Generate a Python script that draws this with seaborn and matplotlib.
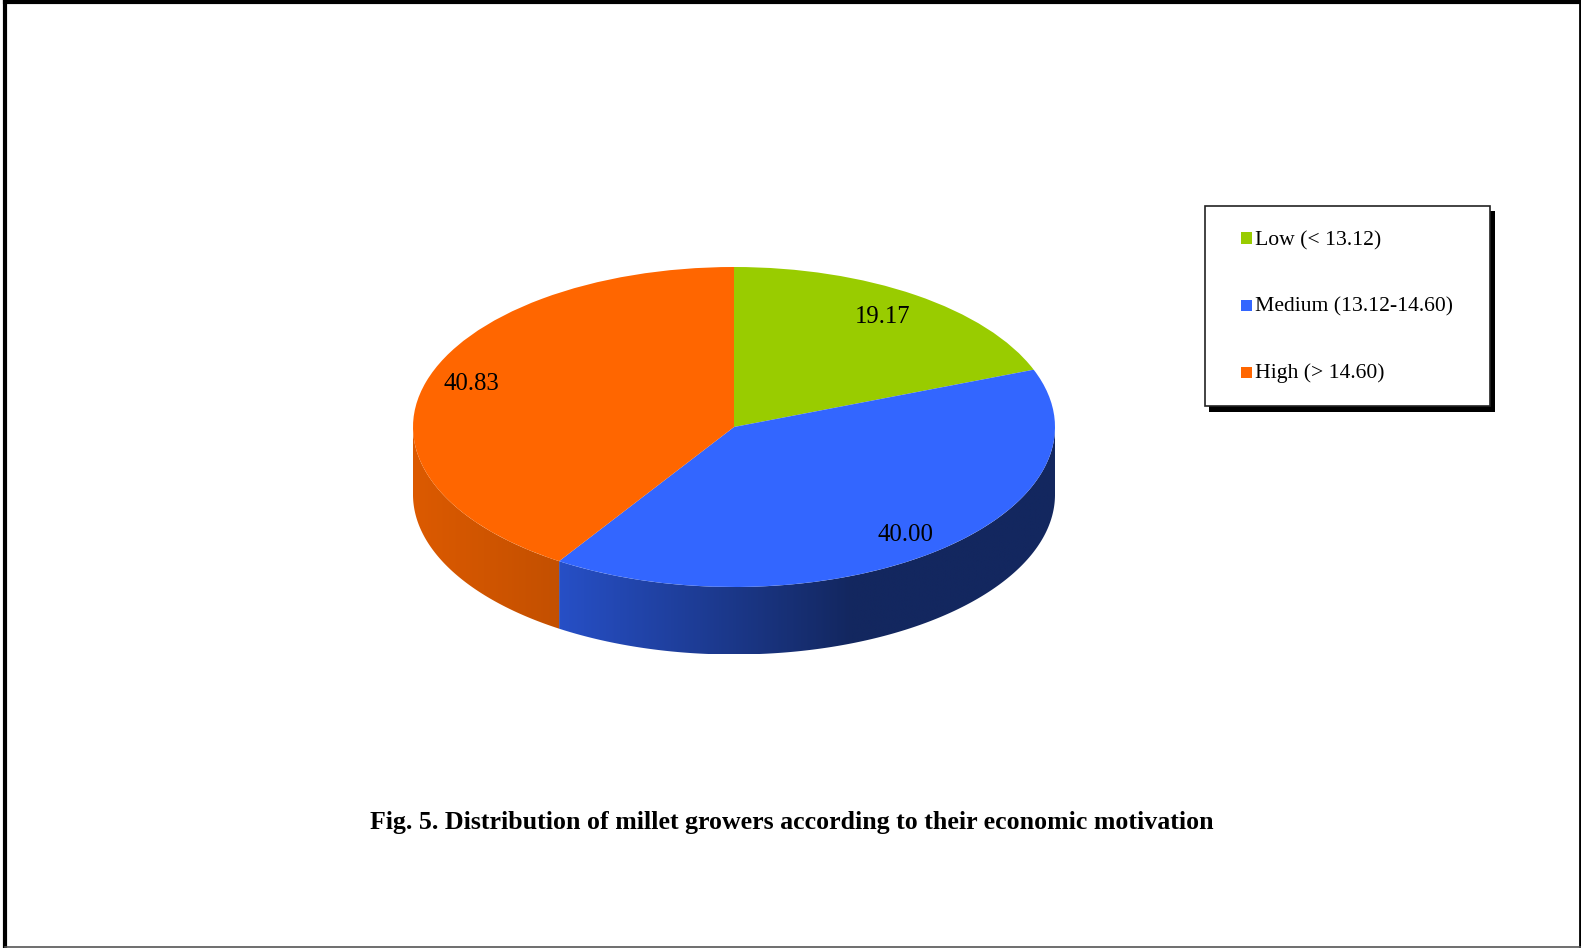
import numpy as np
import matplotlib
matplotlib.use("Agg")
import matplotlib.pyplot as plt
from matplotlib.colors import LinearSegmentedColormap
from matplotlib.lines import Line2D
from matplotlib.patches import Rectangle
import seaborn as sns

categories = ["Low (< 13.12)", "Medium (13.12-14.60)", "High (> 14.60)"]
values = [19.17, 40.00, 40.83]
value_labels = ["19.17", "40.00", "40.83"]
title = "Fig. 5. Distribution of millet growers according to their economic motivation"
top_colors = ["#99CC00", "#3366FF", "#FF6600"]

sns.set_theme(style="white")
plt.rcParams["font.family"] = ["Liberation Serif", "DejaVu Serif"]

W, H = 1581, 948
cx, cy, rx, ry, depth = 734, 427, 321, 160, 67.5
fig = plt.figure(figsize=(W / 100, H / 100), dpi=100, facecolor="white")
ax = fig.add_axes([0, 0, 1, 1])

wedges, _ = ax.pie(values, startangle=90, counterclock=False, colors=top_colors,
                   radius=1, center=(0, 0), frame=False, wedgeprops=dict(linewidth=0))
for w in wedges:
    w.set_zorder(5)

# extruded rim: visible front part of every slice, with a horizontal gradient
d = depth / ry
edges = np.cumsum([0] + values) / sum(values) * 360
side_ramps = {1: ("#2750C8", "#13275F"), 2: ("#DC5A00", "#C45000")}
ramp_spans = {1: (-0.56, 0.37), 2: (-1.0, -0.56)}
for i, (a0, a1) in enumerate(zip(edges[:-1], edges[1:])):
    lo, hi = max(a0, 90), min(a1, 270)
    if hi <= lo:
        continue
    th = np.radians(np.linspace(lo, hi, 400))
    xs, ys = np.sin(th), np.cos(th)
    poly = ax.fill_between(xs, ys - d, ys, color="none", lw=0)
    grid = np.linspace(xs.min(), xs.max(), 800)
    s0, s1 = ramp_spans[i]
    frac = np.clip((grid - s0) / (s1 - s0), 0, 1)[None, :]
    cmap = LinearSegmentedColormap.from_list(f"side{i}", side_ramps[i])
    im = ax.imshow(frac, cmap=cmap, vmin=0, vmax=1, aspect="auto", zorder=2,
                   extent=(xs.min(), xs.max(), (ys - d).min(), ys.max()), interpolation="bilinear")
    im.set_clip_path(poly.get_paths()[0], ax.transData)

ax.set_aspect("auto")
ax.set_xlim(-cx / rx, (W - cx) / rx)
ax.set_ylim(-(H - cy) / ry, cy / ry)
ax.axis("off")

# value labels
label_pos = [(0.462, 0.685), (0.535, -0.672), (-0.817, 0.27)]
for (lx, ly), s in zip(label_pos, value_labels):
    ax.text(lx, ly, s, ha="center", va="center", fontsize=17.8, color="black", zorder=6)

ax.text((792 - cx) / rx, (cy - 822) / ry, title, ha="center", va="center",
        fontsize=18.6, fontweight="bold", color="black")

# legend
fa = fig.transFigure
fig.add_artist(Rectangle((1209 / W, 1 - 412 / H), 286 / W, 201 / H, transform=fa, fc="black", ec="none"))
fig.add_artist(Rectangle((1205 / W, 1 - 406 / H), 285 / W, 200 / H, transform=fa, fc="white", ec="#222222", lw=1.2))
for cat, col, y, ty in zip(categories, top_colors, [238, 305, 372], [241, 306.5, 373]):
    fig.add_artist(Rectangle((1241 / W, 1 - (y + 5.5) / H), 11 / W, 11 / H, transform=fa, fc=col, ec="none"))
    fig.text(1255 / W, 1 - ty / H, cat, fontsize=15.6, va="center", ha="left", color="black")

# page frame
def frame_line(x0, y0, x1, y1, lw, color="black"):
    fig.add_artist(Line2D([x0 / W, x1 / W], [1 - y0 / H, 1 - y1 / H], transform=fa, lw=lw,
                          color=color, solid_capstyle="projecting"))
frame_line(5, 2, W - 1.5, 2, 3)
frame_line(5, 2, 5, H, 3)
frame_line(W - 1.5, 2, W - 1.5, H, 2)
frame_line(5, H - 1.5, W, H - 1.5, 1.2, "#555555")
fig.savefig("out.png", dpi=100)
